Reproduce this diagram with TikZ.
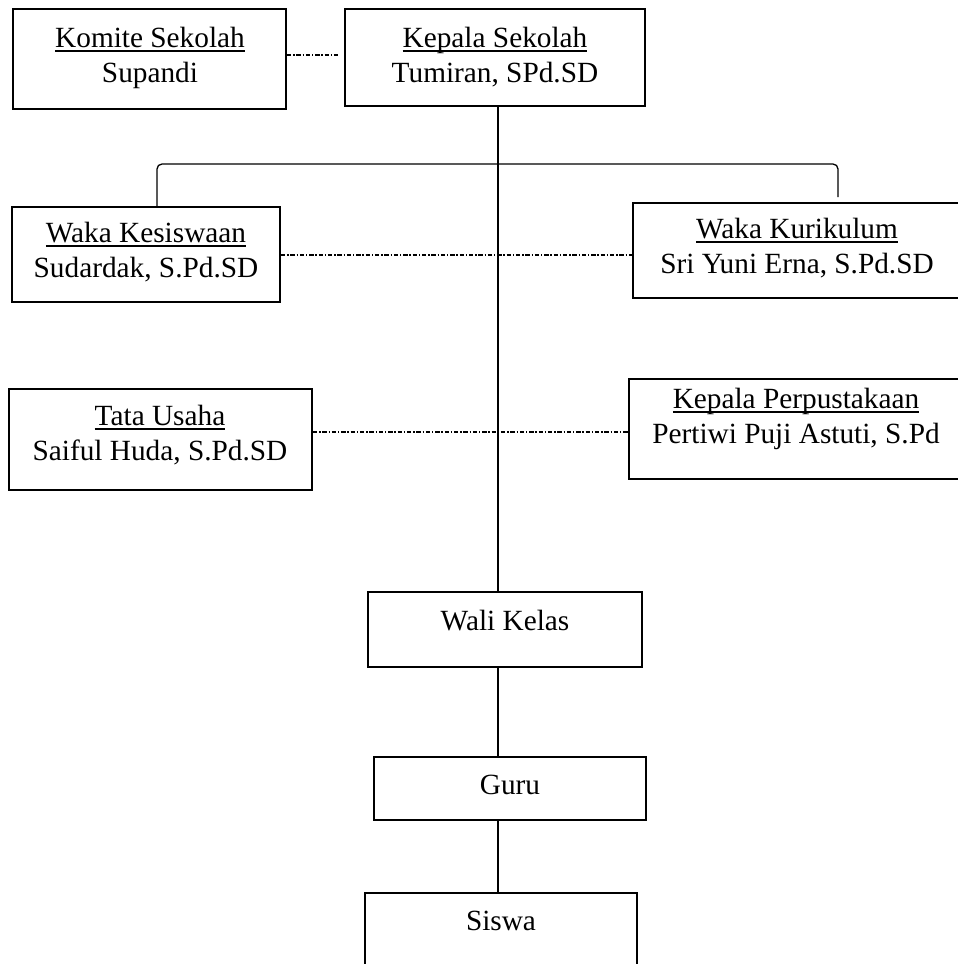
\documentclass[tikz,border=0pt]{standalone}
\usepackage{fontspec}
\setmainfont{Liberation Serif}
\newcommand{\myul}[1]{\setbox0\hbox{#1}\rlap{\rule[-5pt]{\wd0}{1.6pt}}\box0}
\begin{document}
\begin{tikzpicture}[x=1pt,y=-1pt,
  box/.style={draw, line width=1.9pt, inner sep=0pt, fill=none},
  txt/.style={inner sep=0pt, anchor=base, font=\fontsize{29.3}{35}\selectfont},
  conn/.style={line width=1.3pt},
  dd/.style={line width=1.3pt, dash pattern=on 4.5pt off 1.8pt on 1.3pt off 1.8pt}]
\useasboundingbox (0,0) rectangle (958,964);
% boxes
\node[box, minimum width=273pt, minimum height=100pt] (kom) at (149.5,59) {};
\node[box, minimum width=300pt, minimum height=97pt] (kep) at (495,57.5) {};
\node[box, minimum width=268pt, minimum height=95pt] (kes) at (146,254.5) {};
\node[box, minimum width=328pt, minimum height=95pt] (kur) at (797,250.5) {};
\node[box, minimum width=303pt, minimum height=101pt] (tu) at (160.5,439.5) {};
\node[box, minimum width=334pt, minimum height=100pt] (per) at (796,429) {};
\node[box, minimum width=274pt, minimum height=75pt] (wali) at (505,629.5) {};
\node[box, minimum width=272pt, minimum height=63pt] (guru) at (510,788.5) {};
\node[box, minimum width=272pt, minimum height=120pt] (sis) at (501,953) {};
% texts
\node[txt] (komA) at (150,47) {\myul{Komite Sekolah}};
\node[txt] (komB) at (150,82) {Supandi};
\node[txt] (kepA) at (495,47) {\myul{Kepala Sekolah}};
\node[txt] (kepB) at (495,82) {Tumiran, SPd.SD};
\node[txt] (kesA) at (146,242) {\myul{Waka Kesiswaan}};
\node[txt] (kesB) at (146,277) {Sudardak, S.Pd.SD};
\node[txt] (kurA) at (797,238) {\myul{Waka Kurikulum}};
\node[txt] (kurB) at (797,273) {Sri Yuni Erna, S.Pd.SD};
\node[txt] (tuA) at (160,425) {\myul{Tata Usaha}};
\node[txt] (tuB) at (160,460) {Saiful Huda, S.Pd.SD};
\node[txt] (perA) at (796,408) {\myul{Kepala Perpustakaan}};
\node[txt] (perB) at (796,443) {Pertiwi Puji Astuti, S.Pd};
\node[txt] (waliT) at (505,630) {Wali Kelas};
\node[txt] (guruT) at (510,794) {Guru};
\node[txt] (sisT) at (501,930) {Siswa};
% connectors
\coordinate (tx) at (498,0);
\draw[conn] (kep.south -| tx) -- (wali.north -| tx);
\draw[conn] (wali.south -| tx) -- (guru.north -| tx);
\draw[conn] (guru.south -| tx) -- (sis.north -| tx);
\coordinate (bl) at (157,164);
\coordinate (br) at (838,164);
\draw[conn, rounded corners=5pt] (kes.north -| bl) -- (bl) -- (br) -- ([yshift=5pt]kur.north -| br);
\coordinate (d1) at (338,55);
\draw[dd] (kom.east |- d1) -- (d1);
\coordinate (d2) at (0,255);
\draw[dd] (kes.east |- d2) -- (kur.west |- d2);
\coordinate (d3) at (0,432);
\draw[dd] (tu.east |- d3) -- (per.west |- d3);
\end{tikzpicture}
\end{document}
